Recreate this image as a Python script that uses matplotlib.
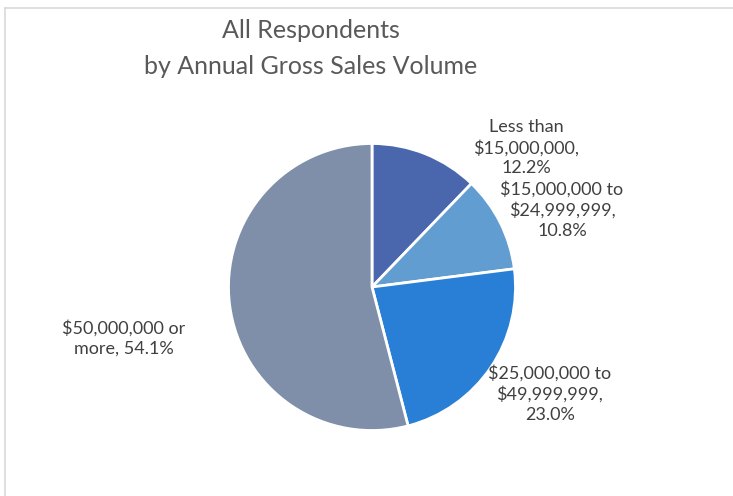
import matplotlib.pyplot as plt
from matplotlib.lines import Line2D

# data
categories = ['Less than\n$15,000,000,', '$15,000,000 to\n$24,999,999,',
              '$25,000,000 to\n$49,999,999,', '$50,000,000 or\nmore,']
shares = [12.2, 10.8, 23.0, 54.1]
colors = ['#4A66AC', '#629DD1', '#297FD5', '#7F8FA9']

plt.rcParams['font.family'] = ['Lato', 'DejaVu Sans']

fig = plt.figure(figsize=(7.33, 4.96), dpi=100)

# light frame (only left and top edges visible in the crop)
fig.add_artist(Line2D([5 / 733, 5 / 733], [0, 1 - 8 / 496], transform=fig.transFigure,
                      color='#D9D9D9', lw=1.2))
fig.add_artist(Line2D([5 / 733, 1], [1 - 8 / 496, 1 - 8 / 496], transform=fig.transFigure,
                      color='#D9D9D9', lw=1.2))

cx, cy, r = 372, 287, 143.5
ax = fig.add_axes([(cx - r) / 733, 1 - (cy + r) / 496, 2 * r / 733, 2 * r / 496])
ax.pie(shares, colors=colors, startangle=90, counterclock=False, radius=1,
       wedgeprops=dict(edgecolor='white', linewidth=2))
ax.set_xlim(-1, 1)
ax.set_ylim(-1, 1)
ax.set_aspect('equal')
ax.axis('off')

label_pos = [(1.073, 0.969), (1.324, 0.537), (1.24, -0.746), (-1.728, -0.355)]
for (lx, ly), cat, v in zip(label_pos, categories, shares):
    if cat.endswith('more,'):
        txt = cat + ' %.1f%%' % v
    else:
        txt = cat + '\n%.1f%%' % v
    ax.text(lx, ly, txt, ha='center', va='center', fontsize=13, color='#404040',
            linespacing=1.3, clip_on=False)

fig.text(311 / 733, 1 - 30 / 496, 'All Respondents', ha='center', va='center',
         fontsize=18, color='#595959')
fig.text(311 / 733, 1 - 67 / 496, 'by Annual Gross Sales Volume', ha='center', va='center',
         fontsize=18, color='#595959')

fig.savefig('out.png', dpi=100)
